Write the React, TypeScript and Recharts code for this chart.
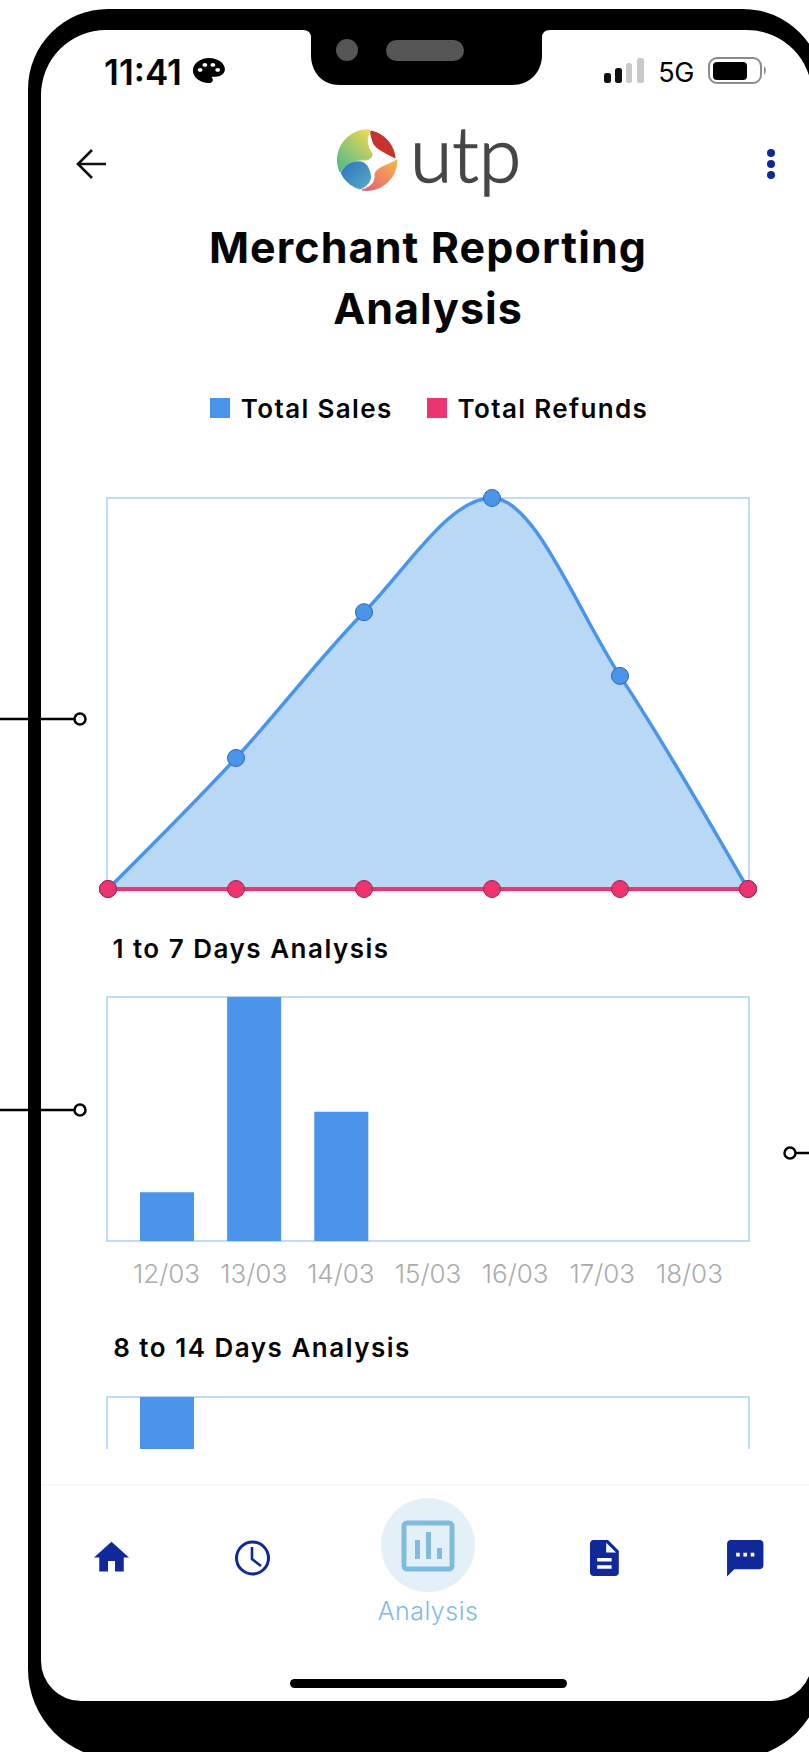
import React from 'react';
import {
  Area,
  Bar,
  BarChart,
  ComposedChart,
  Legend,
  Line,
  XAxis,
  YAxis,
} from 'recharts';

const trendPoints = ['1', '2', '3', '4', '5', '6'];
const totalSales = [0, 335, 708, 1000, 545, 0];
const totalRefunds = [0, 0, 0, 0, 0, 0];

const firstWeekDays = ['12/03', '13/03', '14/03', '15/03', '16/03', '17/03', '18/03'];
const firstWeekSales = [20, 100, 53, 0, 0, 0, 0];

const secondWeekDays = ['05/03', '06/03', '07/03', '08/03', '09/03', '10/03', '11/03'];
const secondWeekSales = [100, 0, 0, 0, 0, 0, 0];

const BLUE = '#4a94ec';
const PINK = '#ec3470';
const FRAME = '#bcdcfa';
const NAVY = '#10289a';
const FONT = 'Inter, "Noto Sans", sans-serif';

const trendData = trendPoints.map((point, i) => ({
  point,
  sales: totalSales[i],
  refunds: totalRefunds[i],
}));
const toBars = (days: string[], values: number[]) =>
  days.map((day, i) => ({ day, sales: values[i] }));

// legend drawn from the chart payload, spaced like the app
const LegendRow = ({ payload }: any) => (
  <div style={{ display: 'flex', justifyContent: 'center', gap: 34, height: 40, alignItems: 'center', paddingLeft: 2 }}>
    {(payload || []).map((item: any) => (
      <div key={item.value} style={{ display: 'flex', alignItems: 'center', gap: 11 }}>
        <div style={{ width: 20, height: 20, background: item.color }} />
        <span style={{ fontFamily: FONT, fontSize: 26, fontWeight: 600, color: '#050505', letterSpacing: 1.35 }}>
          {item.value}
        </span>
      </div>
    ))}
  </div>
);

// the plot frame is wider than the padded axis range, so it sits behind the chart
const PlotFrame = ({ left, top, width, height }: any) => (
  <div
    style={{
      position: 'absolute',
      left,
      top,
      width,
      height,
      boxSizing: 'border-box',
      border: `2px solid ${FRAME}`,
    }}
  />
);

const DayBars = ({ data, showDays = true }: { data: { day: string; sales: number }[]; showDays?: boolean }) => (
  <div style={{ position: 'relative', width: 682, height: 304 }}>
    <PlotFrame left={19} top={9} width={644} height={246} />
    <BarChart width={682} height={304} data={data} margin={{ top: 10, right: 20, bottom: 0, left: 20 }}>
      <XAxis
        dataKey="day"
        interval={0}
        height={50}
        axisLine={false}
        tickLine={false}
        padding={{ left: 16, right: 16 }}
        tickMargin={18}
        tick={showDays ? { fontSize: 26, fontWeight: 300, fill: '#ababab', fontFamily: FONT } : false}
      />
      <YAxis hide domain={[0, 100]} />
      <Bar dataKey="sales" fill={BLUE} barSize={54} isAnimationActive={false} />
    </BarChart>
  </div>
);

const Text = ({ x, y, size, weight, color = '#050505', spacing = 0, children }: any) => (
  <div
    style={{
      position: 'absolute',
      left: x,
      top: y,
      transform: 'translate(-50%, -50%)',
      fontFamily: FONT,
      fontSize: size,
      fontWeight: weight,
      color,
      letterSpacing: spacing,
      whiteSpace: 'nowrap',
      lineHeight: 1,
    }}
  >
    {children}
  </div>
);

const Phone = () => (
  <svg width={809} height={1752} style={{ position: 'absolute', left: 0, top: 0 }}>
    <defs>
      <linearGradient id="lgGreen" x1="0.9" y1="0" x2="0.1" y2="1">
        <stop offset="0" stopColor="#efd84f" />
        <stop offset="1" stopColor="#4fb98c" />
      </linearGradient>
      <linearGradient id="lgBlue" x1="0" y1="0" x2="1" y2="1">
        <stop offset="0" stopColor="#2a74bd" />
        <stop offset="1" stopColor="#58abc9" />
      </linearGradient>
      <linearGradient id="lgOrange" x1="1" y1="0" x2="0" y2="1">
        <stop offset="0" stopColor="#f7b84a" />
        <stop offset="1" stopColor="#e65a78" />
      </linearGradient>
    </defs>

    {/* device body */}
    <path
      fillRule="evenodd"
      fill="#000"
      d="M108 9 H743 A80 80 0 0 1 823 89 V1669 A90 90 0 0 1 733 1759 H118 A90 90 0 0 1 28 1669 V89 A80 80 0 0 1 108 9 Z
         M106 30 H303 Q311 30 311 38 V55 C311 72 322 85 340 85 H512 C530 85 542 72 542 55 V38 Q542 30 550 30 H747 A65 65 0 0 1 812 95 V1661 A40 40 0 0 1 772 1701 H81 A40 40 0 0 1 41 1661 V95 A65 65 0 0 1 106 30 Z"
    />
    <ellipse cx={347} cy={50} rx={11} ry={11} fill="#555" />
    <rect x={386} y={40} width={78} height={21} rx={10.5} fill="#555" />

    {/* annotation pins */}
    <g stroke="#000" strokeWidth={2.5} fill="#fff">
      <line x1={0} y1={719} x2={74} y2={719} />
      <circle cx={80} cy={719} r={5.5} />
      <line x1={0} y1={1110} x2={74} y2={1110} />
      <circle cx={80} cy={1110} r={5.5} />
      <line x1={796} y1={1153} x2={809} y2={1153} />
      <circle cx={790} cy={1153} r={5.5} />
    </g>

    {/* status bar */}
    <path
      transform="translate(189.7 55.5) scale(1.6 1.25)"
      d="M12 2C6.49 2 2 6.49 2 12s4.49 10 10 10c1.38 0 2.5-1.12 2.5-2.5 0-.61-.23-1.2-.64-1.67-.08-.1-.13-.21-.13-.33 0-.28.22-.5.5-.5H16c3.31 0 6-2.69 6-6 0-4.96-4.49-9-10-9zm-5.5 11c-.83 0-1.5-.67-1.5-1.5S5.67 10 6.5 10s1.5.67 1.5 1.5S7.33 13 6.5 13zm3-4C8.67 9 8 8.33 8 7.5S8.67 6 9.5 6s1.5.67 1.5 1.5S10.33 9 9.5 9zm5 0c-.83 0-1.5-.67-1.5-1.5S13.67 6 14.5 6s1.5.67 1.5 1.5S15.33 9 14.5 9zm3 4c-.83 0-1.5-.67-1.5-1.5s.67-1.5 1.5-1.5 1.5.67 1.5 1.5-.67 1.5-1.5 1.5z"
    />
    <rect x={604} y={73} width={7} height={10} rx={2.5} fill="#111" />
    <rect x={615} y={68} width={7} height={15} rx={2.5} fill="#111" />
    <rect x={626} y={63} width={6} height={20} rx={2.5} fill="#c9c9c9" />
    <rect x={637} y={58} width={7} height={25} rx={2.5} fill="#c9c9c9" />
    <rect x={709} y={58} width={52} height={25} rx={8} fill="none" stroke="#8b8b8b" strokeWidth={2} />
    <rect x={713} y={62} width={34} height={18} rx={4} fill="#000" />
    <path d="M764 66 Q768 70 764 75 Z" fill="#8b8b8b" />

    {/* header */}
    <path d="M106 164 H79 M92 150 L78 164 L92 178" fill="none" stroke="#111" strokeWidth={2.6} />
    <circle cx={771} cy={153} r={4} fill={NAVY} />
    <circle cx={771} cy={164} r={4} fill={NAVY} />
    <circle cx={771} cy={175} r={4} fill={NAVY} />

    {/* logo */}
    <path
      fill="url(#lgGreen)"
      stroke="url(#lgGreen)"
      d="M370 130 A30 30 0 0 0 340 172 C346 163 357 159 365 160 C369 160 373 157 372 153 C367 148 366 138 370 130 Z"
    />
    <path
      fill="#c9322c"
      stroke="#c9322c"
      d="M371 131 A30 30 0 0 1 395 158 C385 152 375 149 373 142 C372 138 370 134 371 131 Z"
    />
    <path
      fill="url(#lgOrange)"
      stroke="url(#lgOrange)"
      d="M397 160 A30 30 0 0 1 362 190 C372 187 376 181 375 174 C376 168 386 166 397 160 Z"
    />
    <path
      fill="url(#lgBlue)"
      stroke="url(#lgBlue)"
      d="M341 173 A30 30 0 0 0 360 189 C368 186 372 180 370 173 C368 165 364 162 361 162 C352 161 345 165 341 173 Z"
    />
    <text
      x={410}
      y={182}
      fontFamily="Lato, Inter, sans-serif"
      fontWeight={300}
      fontSize={77}
      fill="#464646"
      stroke="#464646"
      strokeWidth={1.5}
    >
      utp
    </text>

    {/* bottom nav */}
    <line x1={41} y1={1485} x2={809} y2={1485} stroke="#f8f8f8" strokeWidth={2} />
    <path
      transform="translate(90.5 1536.5) scale(1.75)"
      fill={NAVY}
      d="M10 20v-6h4v6h5v-8h3L12 3 2 12h3v8z"
    />
    <circle cx={252.5} cy={1558} r={16} fill="none" stroke={NAVY} strokeWidth={3} />
    <path d="M252 1547 V1559 L261 1566" fill="none" stroke={NAVY} strokeWidth={2.6} />
    <circle cx={428} cy={1545} r={47} fill="#e4f0f8" />
    <rect x={404} y={1523} width={48} height={46} rx={3} fill="none" stroke="#80bbdd" strokeWidth={5} />
    <rect x={415} y={1540} width={5} height={19} fill="#80bbdd" />
    <rect x={426} y={1532} width={5} height={27} fill="#80bbdd" />
    <rect x={437} y={1548} width={5} height={11} fill="#80bbdd" />
    <path
      transform="translate(582.8 1536.4) scale(1.8)"
      fill={NAVY}
      d="M14 2H6c-1.1 0-2 .9-2 2v16c0 1.1.9 2 2 2h12c1.1 0 2-.9 2-2V8l-6-6zm2 16H8v-2h8v2zm0-4H8v-2h8v2zm-3-5V3.5L18.5 9H13z"
    />
    <path
      transform="translate(723.4 1536.4) scale(1.82)"
      fill={NAVY}
      d="M20 2H4c-1.1 0-1.99.9-1.99 2L2 22l4-4h14c1.1 0 2-.9 2-2V4c0-1.1-.9-2-2-2zM9 11H7V9h2v2zm4 0h-2V9h2v2zm4 0h-2V9h2v2z"
    />
    <rect x={290} y={1679} width={277} height={9} rx={4.5} fill="#000" />
  </svg>
);

export default function App() {
  return (
    <div style={{ position: 'absolute', left: 0, top: 0, width: 809, height: 1752, background: '#fff', overflow: 'hidden' }}>
      <Phone />

      <Text x={143} y={72} size={35} weight={600}>11:41</Text>
      <Text x={676} y={72} size={27} weight={400} spacing={-0.5}>5G</Text>

      <Text x={428} y={247} size={43} weight={700} spacing={1.1}>Merchant Reporting</Text>
      <Text x={428} y={308} size={43} weight={700} spacing={1}>Analysis</Text>

      {/* sales vs refunds trend, legend sits above it */}
      <div style={{ position: 'absolute', left: 87, top: 378 }}>
        <PlotFrame left={19} top={119} width={644} height={393} />
        <ComposedChart
          width={682}
          height={531}
          data={trendData}
          margin={{ top: 80, right: 20, bottom: 20, left: 20 }}
        >
          <XAxis dataKey="point" hide scale="point" padding={{ left: 1, right: 1 }} />
          <YAxis hide domain={[0, 1000]} />
          <Legend
            verticalAlign="top"
            height={40}
            itemSorter={null}
            wrapperStyle={{ top: 10, left: 0, width: 682 }}
            content={<LegendRow />}
          />
          <Area
            name="Total Sales"
            type="monotone"
            dataKey="sales"
            stroke={BLUE}
            strokeWidth={3.5}
            fill="#b8d8f6"
            fillOpacity={1}
            dot={{ r: 8.5, fill: BLUE, stroke: '#2f6aa8', strokeWidth: 1, fillOpacity: 1 }}
            isAnimationActive={false}
          />
          <Line
            name="Total Refunds"
            type="monotone"
            dataKey="refunds"
            stroke={PINK}
            strokeWidth={4}
            dot={{ r: 8.5, fill: PINK, stroke: '#a5234f', strokeWidth: 1 }}
            isAnimationActive={false}
          />
        </ComposedChart>
      </div>

      <Text x={251} y={949} size={26} weight={600} spacing={1.5}>1 to 7 Days Analysis</Text>
      <div style={{ position: 'absolute', left: 87, top: 987 }}>
        <DayBars data={toBars(firstWeekDays, firstWeekSales)} />
      </div>

      <Text x={262} y={1348} size={26} weight={600} spacing={1.5}>8 to 14 Days Analysis</Text>
      {/* list scrolls under the tab bar, so this one is cut off */}
      <div style={{ position: 'absolute', left: 87, top: 1387, width: 682, height: 62, overflow: 'hidden' }}>
        <DayBars data={toBars(secondWeekDays, secondWeekSales)} showDays={false} />
      </div>

      <Text x={428} y={1611} size={25} weight={300} color="#82bce0" spacing={0.5}>Analysis</Text>
    </div>
  );
}
